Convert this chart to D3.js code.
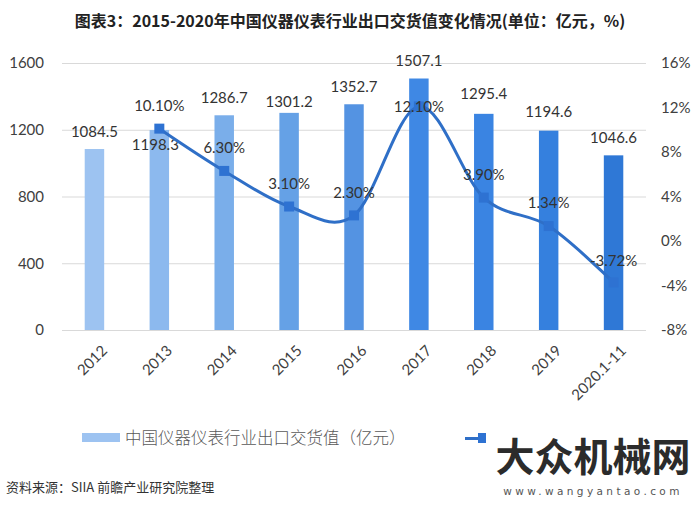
<!DOCTYPE html>
<html><head><meta charset="utf-8">
<script src="https://cdn.jsdelivr.net/npm/d3@7/dist/d3.min.js"></script>
<style>
html,body{margin:0;padding:0;background:#fff;}
svg{display:block;}
</style></head>
<body>
<svg id="chart" width="700" height="507"></svg>
<script>
// ---- data ----
const categories = ['2012','2013','2014','2015','2016','2017','2018','2019','2020.1-11'];
const exportValues = [1084.5,1198.3,1286.7,1301.2,1352.7,1507.1,1295.4,1194.6,1046.6];
const growthRates = [null,10.10,6.30,3.10,2.30,12.10,3.90,1.34,-3.72];
const leftTicks = [0,400,800,1200,1600];
const rightTicks = [-8,-4,0,4,8,12,16];
const barColors = ['#9dc3f1','#8cb9ee','#7aaeea','#65a1e6','#5493e2','#3f88e4','#3a84e2','#3580de','#2f78d6'];
// label layout tweaks (vertical offset from mark, px)
const barLabelDy = [-17,15,-18,-11,-18,-18,-20,-19,-18];
const barLabelDx = [0,-4,0,0,0,0,0,0,0];
const growthLabelDy = [0,-23,-23,-23,-23,0,-23,-23,-22];

const titleText = '图表3：2015-2020年中国仪器仪表行业出口交货值变化情况(单位：亿元，%)';
const legendBar = '中国仪器仪表行业出口交货值（亿元）';
const sourceText = '资料来源：SIIA 前瞻产业研究院整理';

// ---- drawing ----
const svg = d3.select('#chart');
const numFont = 'Lato, "Open Sans", sans-serif';
const cjkFont = '"Noto Sans CJK SC", "Noto Sans", sans-serif';
const textColor = '#404040';

const x = d3.scaleBand().domain(categories).range([62, 646]).paddingInner(0.7).paddingOuter(0.35);
const yL = d3.scaleLinear().domain([0,1600]).range([330,63]);
const yR = d3.scaleLinear().domain([-8,16]).range([330,63]);

// title
svg.append('text').attr('x',350).attr('y',27).attr('text-anchor','middle')
  .style('font-family',cjkFont).style('font-weight','bold').style('font-size','16px')
  .attr('fill','#222').text(titleText);

// gridlines
svg.append('g').selectAll('line').data(leftTicks).join('line')
  .attr('x1',62).attr('x2',646).attr('y1',d=>yL(d)+0.5).attr('y2',d=>yL(d)+0.5)
  .attr('stroke','#d9d9d9').attr('stroke-width',1.2);

// left axis
const axL = svg.append('g').attr('transform','translate(44,0)')
  .call(d3.axisLeft(yL).tickValues(leftTicks).tickSize(0).tickPadding(0).tickFormat(d3.format('d')));
axL.select('.domain').remove();
axL.selectAll('text').style('font-family',numFont).style('font-size','15px').attr('fill',textColor);

// right axis
const axR = svg.append('g').attr('transform','translate(661,0)')
  .call(d3.axisRight(yR).tickValues(rightTicks).tickSize(0).tickPadding(0).tickFormat(d=>d+'%'));
axR.select('.domain').remove();
axR.selectAll('text').style('font-family',numFont).style('font-size','15px').attr('fill',textColor);

// bottom axis labels
const axB = svg.append('g').attr('transform','translate(0,330)')
  .call(d3.axisBottom(x).tickSize(0).tickPadding(0));
axB.select('.domain').remove();
axB.selectAll('text')
  .style('font-family',numFont).style('font-size','15px').attr('fill',textColor)
  .attr('text-anchor','end').attr('dy','0.35em')
  .attr('transform','translate(10,18) rotate(-45)');

// bars
svg.append('g').selectAll('rect').data(exportValues).join('rect')
  .attr('x',(d,i)=>x(categories[i]))
  .attr('width',x.bandwidth())
  .attr('y',d=>yL(d))
  .attr('height',d=>yL(0)-yL(d))
  .attr('fill',(d,i)=>barColors[i]);

// bar labels
svg.append('g').selectAll('text').data(exportValues).join('text')
  .attr('x',(d,i)=>x(categories[i])+x.bandwidth()/2+barLabelDx[i])
  .attr('y',(d,i)=>yL(d)+barLabelDy[i])
  .attr('dy','0.35em').attr('text-anchor','middle')
  .style('font-family',numFont).style('font-size','15px').attr('fill','#333')
  .text(d=>d.toFixed(1));

// line
const pts = growthRates.map((v,i)=>({v,i})).filter(p=>p.v!==null);
const cx = p=>x(categories[p.i])+x.bandwidth()/2;
const line = d3.line().x(cx).y(p=>yR(p.v)).curve(d3.curveCardinal.tension(0));
svg.append('path').datum(pts).attr('d',line)
  .attr('fill','none').attr('stroke','#2f6fc7').attr('stroke-width',3);

// markers
svg.append('g').selectAll('rect').data(pts).join('rect')
  .attr('x',p=>cx(p)-5).attr('y',p=>yR(p.v)-5)
  .attr('width',10).attr('height',10).attr('fill','#2e72d2');

// growth labels
svg.append('g').selectAll('text').data(pts).join('text')
  .attr('x',cx).attr('y',p=>yR(p.v)+growthLabelDy[p.i])
  .attr('dy','0.35em').attr('text-anchor','middle')
  .style('font-family',numFont).style('font-size','15px').attr('fill','#333')
  .text(p=>p.v.toFixed(2)+'%');

// legend
svg.append('rect').attr('x',82).attr('y',433).attr('width',38).attr('height',9).attr('fill',barColors[0]);
svg.append('text').attr('x',125).attr('y',438).attr('dy','0.36em')
  .style('font-family',cjkFont).style('font-size','16.5px').style('font-weight','300')
  .attr('fill','#595959').text(legendBar);
svg.append('line').attr('x1',465).attr('x2',485).attr('y1',438.5).attr('y2',438.5)
  .attr('stroke','#2f6fc7').attr('stroke-width',3);
svg.append('rect').attr('x',478).attr('y',433).attr('width',10).attr('height',10).attr('fill','#2e72d2');

// watermark block covering the second legend entry
svg.append('rect').attr('x',486).attr('y',418).attr('width',214).attr('height',89).attr('fill','#fff');
svg.append('text').attr('x',593).attr('y',471).attr('text-anchor','middle')
  .style('font-family',cjkFont).style('font-weight','bold').style('font-size','39px')
  .attr('fill','#2b2b2b').text('大众机械网');
svg.append('text').attr('x',593).attr('y',495).attr('text-anchor','middle')
  .style('font-family','"DejaVu Sans", sans-serif').style('font-size','10.5px').style('letter-spacing','3.4px')
  .attr('fill','#555').text('www.wangyantao.com');

// source
svg.append('text').attr('x',6).attr('y',487).attr('dy','0.35em')
  .style('font-family',cjkFont).style('font-size','13px').attr('fill','#333').text(sourceText);
</script>
</body></html>
